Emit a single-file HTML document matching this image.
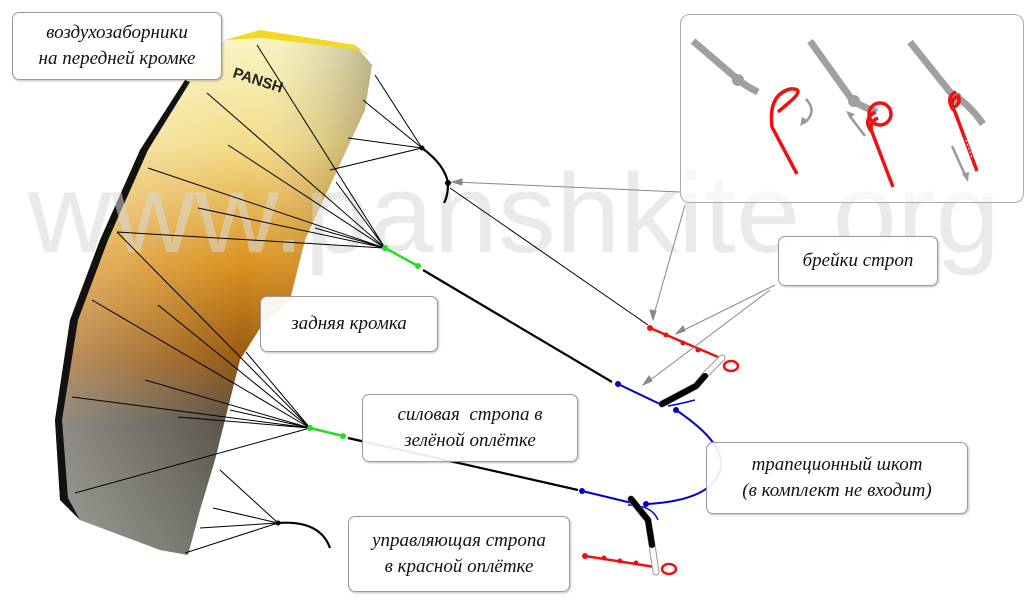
<!DOCTYPE html>
<html><head><meta charset="utf-8"><style>
body{margin:0;width:1030px;height:600px;overflow:hidden;background:#fff;position:relative;font-family:"Liberation Serif",serif}
.b{position:absolute;border:1px solid #9a9a9a;border-radius:7px;background:rgba(255,255,255,0.92);box-shadow:1px 1px 2px rgba(0,0,0,0.25);font-style:italic;font-size:19px;color:#111;text-align:center;display:flex;align-items:center;justify-content:center;line-height:26px}
</style></head><body>
<svg width="1030" height="600" style="position:absolute;left:0;top:0">
<defs>
<linearGradient id="k" x1="0" y1="0" x2="0" y2="1">
<stop offset="0" stop-color="#fbf7c8"/><stop offset="0.22" stop-color="#f3dc8a"/>
<stop offset="0.45" stop-color="#d9901e"/><stop offset="0.62" stop-color="#9a5a10"/>
<stop offset="0.75" stop-color="#555045"/><stop offset="1" stop-color="#6a6a62"/></linearGradient>
<linearGradient id="k2" x1="0" y1="0" x2="1" y2="0">
<stop offset="0" stop-color="#fff" stop-opacity="0.35"/><stop offset="0.6" stop-color="#fff" stop-opacity="0"/><stop offset="1" stop-color="#000" stop-opacity="0.25"/></linearGradient>
</defs>
<path d="M225,40 L260,30 L355,45 L372,65 L365,110 L335,175 L305,240 L290,300 L262,325 L240,360 L230,400 L215,460 L200,510 L188,555 L160,550 L120,535 L80,520 L60,500 L55,420 L70,320 L100,240 L140,150 L185,80 Z" fill="url(#k)"/>
<path d="M225,40 L260,30 L355,45 L372,65 L365,110 L335,175 L305,240 L290,300 L262,325 L240,360 L230,400 L215,460 L200,510 L188,555 L160,550 L120,535 L80,520 L60,500 L55,420 L70,320 L100,240 L140,150 L185,80 Z" fill="url(#k2)"/>
<path d="M225,40 L260,30 L355,45 L372,58 L360,50 L262,38 Z" fill="#f2d820"/>
<path d="M185,80 L140,150 L100,240 L70,320 L55,420 L60,500 L80,520 L68,498 L62,420 L78,320 L108,240 L148,150 L190,82 Z" fill="#111"/>
<text x="232" y="77" font-family="Liberation Sans,sans-serif" font-weight="bold" font-size="15" fill="#222" transform="rotate(18 232 77)">PANSH</text>
<text x="28" y="252" font-family="Liberation Sans,sans-serif" font-size="112" fill="#d8d8d8" fill-opacity="0.55" textLength="972" lengthAdjust="spacingAndGlyphs">www.panshkite.org</text>
<g stroke="#000" stroke-width="1" fill="none">
<path d="M257,45L385,248M207,93L385,248M228,145L385,248M148,168L385,248M198,208L385,248M117,232L385,248M336,182L385,248M315,228L385,248"/>
<path d="M117,232L310,428M158,305L310,428M92,300L310,428M145,380L310,428M72,397L310,428M178,417L310,428M75,493L310,428M246,352L310,428M230,410L310,428"/>
<path d="M220,470L278,523M213,508L278,523M200,528L278,523M185,553L278,523"/>
<path d="M375,75L422,148M363,100L422,148M348,138L422,148M330,170L422,148"/>
<path d="M450,188L648,325"/>
</g>
<path d="M422,148Q445,165 448,183Q448,196 444,203" stroke="#000" stroke-width="2.2" fill="none"/>
<circle cx="422" cy="148" r="2.5"/><circle cx="448" cy="183" r="3"/>
<path d="M278,523Q320,520 330,548" stroke="#000" stroke-width="2.2" fill="none"/><circle cx="278" cy="523" r="2.5"/>
<path d="M385,248L418,266" stroke="#22dd22" stroke-width="2.5"/><circle cx="385" cy="248" r="3" fill="#22dd22"/><circle cx="418" cy="266" r="3" fill="#22dd22"/>
<path d="M310,428L343,436" stroke="#22dd22" stroke-width="2.5"/><circle cx="310" cy="428" r="3" fill="#22dd22"/><circle cx="343" cy="436" r="3" fill="#22dd22"/>
<path d="M423,270L612,382" stroke="#000" stroke-width="2.2"/>
<path d="M348,438L578,490" stroke="#000" stroke-width="2.2"/>
<path d="M618,384L662,405" stroke="#0000cc" stroke-width="2"/><circle cx="618" cy="384" r="3" fill="#0000cc"/>
<path d="M582,491L632,503" stroke="#0000cc" stroke-width="2"/><circle cx="582" cy="491" r="3" fill="#0000cc"/>
<path d="M676,410Q728,445 720,470Q712,500 648,504" stroke="#0000cc" stroke-width="2" fill="none"/>
<circle cx="676" cy="410" r="3" fill="#0000cc"/><circle cx="646" cy="504" r="3" fill="#0000cc"/>
<path d="M668,406Q680,404 695,400M628,505Q652,505 658,520" stroke="#0000cc" stroke-width="1.5" fill="none"/>
<path d="M650,328L718,357" stroke="#ee1111" stroke-width="2.5"/>
<circle cx="650" cy="328" r="3" fill="#e11"/><circle cx="666" cy="335" r="2.5" fill="#e11"/><circle cx="683" cy="343" r="2.5" fill="#e11"/><circle cx="698" cy="350" r="2.5" fill="#e11"/>
<path d="M585,556L655,567" stroke="#ee1111" stroke-width="2.5"/>
<circle cx="585" cy="556" r="3" fill="#e11"/><circle cx="604" cy="558" r="2.5" fill="#e11"/><circle cx="620" cy="561" r="2.5" fill="#e11"/><circle cx="636" cy="563" r="2.5" fill="#e11"/>
<ellipse cx="731" cy="366" rx="7" ry="5" fill="none" stroke="#e11" stroke-width="2.5"/>
<ellipse cx="669" cy="569" rx="7" ry="5" fill="none" stroke="#e11" stroke-width="2.5"/>
<path d="M662,404L696,386L705,375L722,358" stroke="#999" stroke-width="7" stroke-linecap="round" fill="none"/>
<path d="M662,404L696,386L705,375L722,358" stroke="#fff" stroke-width="5" stroke-linecap="round" fill="none"/>
<path d="M662,404L696,386L705,376" stroke="#000" stroke-width="6" stroke-linecap="round" fill="none"/>
<path d="M631,499L648,520L652,545L656,572" stroke="#999" stroke-width="7" stroke-linecap="round" fill="none"/>
<path d="M631,499L648,520L652,545L656,572" stroke="#fff" stroke-width="5" stroke-linecap="round" fill="none"/>
<path d="M631,499L648,520L652,545" stroke="#000" stroke-width="6" stroke-linecap="round" fill="none"/>
<g stroke="#888" stroke-width="1" fill="#888">
<path d="M685,205L653,318" fill="none"/><path d="M653,320l-3,-10l6,1z"/>
<path d="M775,285L678,333" fill="none"/><path d="M676,334l7,-8l2,5z"/>
<path d="M770,290L645,384" fill="none"/><path d="M643,385l6,-9l3,5z"/>
<path d="M680,192L454,182" fill="none"/><path d="M452,182l10,-3l0,6z"/>
</g>
<rect x="680.5" y="14.5" width="343" height="188" rx="9" fill="#fff" fill-opacity="0.6" stroke="#aaa"/>
<g stroke="#a0a0a0" stroke-width="7" fill="none">
<path d="M693,41L735,77Q745,86 758,92"/><path d="M810,41L853,101Q865,108 877,112"/><path d="M910,42L950,92Q970,105 983,124"/>
</g>
<circle cx="738" cy="80" r="6" fill="#a0a0a0"/><circle cx="854" cy="101" r="6" fill="#a0a0a0"/><circle cx="956" cy="98" r="6" fill="#a0a0a0"/>
<g stroke="#ee1111" stroke-width="3.5" fill="none">
<path d="M797,174L772,127Q768,95 790,89Q805,88 792,100L778,112"/>
<circle cx="880" cy="114" r="11"/><path d="M893,187L872,132Q868,122 878,118M872,132Q862,120 875,112"/>
<path d="M977,171L955,112Q948,100 958,96Q962,104 952,108Q946,96 956,92"/>
</g>
<g stroke="#fff" stroke-width="1" stroke-dasharray="2 2"><path d="M790,152L796,168M885,160L891,176M966,140L972,158"/></g>
<g stroke="#999" stroke-width="2.5" fill="none"><path d="M806,99Q818,112 804,123"/><path d="M865,136L849,115"/><path d="M952,146L966,177"/></g>
<g fill="#999"><path d="M800,126l2,-9l7,4z"/><path d="M846,111l9,3l-5,5z"/><path d="M968,182l-6,-8l7,-2z"/></g>
</svg>
<div class="b" style="left:12px;top:12px;width:208px;height:66px">воздухозаборники<br>на передней кромке</div>
<div class="b" style="left:260px;top:296px;width:176px;height:54px">задняя кромка</div>
<div class="b" style="left:362px;top:394px;width:214px;height:66px">силовая&nbsp; стропа в<br>зелёной оплётке</div>
<div class="b" style="left:348px;top:516px;width:220px;height:74px">управляющая стропа<br>в красной оплётке</div>
<div class="b" style="left:778px;top:236px;width:158px;height:48px">брейки строп</div>
<div class="b" style="left:706px;top:442px;width:260px;height:70px">трапеционный шкот<br>(в комплект не входит)</div>
</body></html>
